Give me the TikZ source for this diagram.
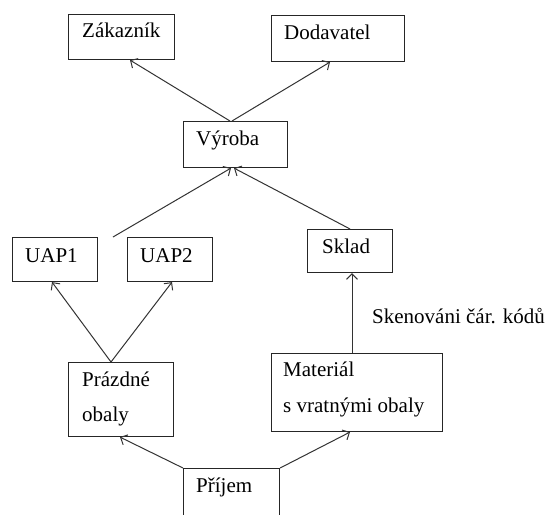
\documentclass[tikz,border=0pt]{standalone}
\usepackage{fontspec}
\setmainfont{Liberation Serif}
\usetikzlibrary{arrows.meta,calc}
\begin{document}
\begin{tikzpicture}[x=1pt,y=-1pt,
  box/.style={draw=black!85, line width=1.1pt, rectangle, inner sep=0pt, anchor=north west},
  lbl/.style={anchor=base west, inner sep=0pt, font=\fontsize{21}{25}\selectfont, text=black},
  conn/.style={draw=black!80, line width=1pt, -{Straight Barb[length=5.5pt,width=11pt]}}]
\useasboundingbox (0,0) rectangle (548,514);

% boxes
\node[box, minimum width=106pt, minimum height=45pt] (zak) at (68,14) {};
\node[box, minimum width=133pt, minimum height=46pt] (dod) at (271,15) {};
\node[box, minimum width=104pt, minimum height=46pt] (vyr) at (183,121) {};
\node[box, minimum width=85pt, minimum height=44pt] (uap1) at (12,237) {};
\node[box, minimum width=85pt, minimum height=44pt] (uap2) at (127,237) {};
\node[box, minimum width=85pt, minimum height=43pt] (skl) at (307,229) {};
\node[box, minimum width=105pt, minimum height=74pt] (pra) at (68,362) {};
\node[box, minimum width=171pt, minimum height=78pt] (mat) at (271,353) {};
\node[box, minimum width=96pt, minimum height=60pt] (pri) at (183,468) {};

% texts
\node[lbl] (tzak) at (82,37) {Zákazník};
\node[lbl] (tdod) at (284,39) {Dodavatel};
\node[lbl] (tvyr) at (196,145) {Výroba};
\node[lbl] (tu1) at (25,262) {UAP1};
\node[lbl] (tu2) at (140,262) {UAP2};
\node[lbl] (tskl) at (322,253) {Sklad};
\node[lbl] (tpra1) at (82,386) {Prázdné};
\node[lbl] (tpra2) at (82,421) {obaly};
\node[lbl] (tmat1) at (283,376) {Materiál};
\node[lbl] (tmat2) at (283,412) {s vratnými obaly};
\node[lbl] (tpri) at (196,492) {Příjem};
\node[lbl] (tsken) at (372,323) {Skenováni čár. kódů};

% connectors
\coordinate (j) at (113,237);
\draw[conn] ($(vyr.north west)+(47,0)$) -- ($(zak.south west)+(62,0)$);
\draw[conn] ($(vyr.north west)+(49,0)$) -- ($(dod.south west)+(59,0)$);
\draw[conn] (j) -- ($(vyr.south west)+(48,0)$);
\draw[conn] (skl.north) -- ($(vyr.south west)+(51,0)$);
\draw[conn] ($(pra.north west)+(43,0)$) -- ($(uap1.south west)+(40,0)$);
\draw[conn] ($(pra.north west)+(43,0)$) -- ($(uap2.south west)+(45,0)$);
\draw[conn] ($(mat.north west)+(81,0)$) -- ($(skl.south west)+(45,0)$);
\draw[conn] (pri.north west) -- ($(pra.south west)+(52,0)$);
\draw[conn] (pri.north east) -- ($(mat.south west)+(79,0)$);
\end{tikzpicture}
\end{document}
